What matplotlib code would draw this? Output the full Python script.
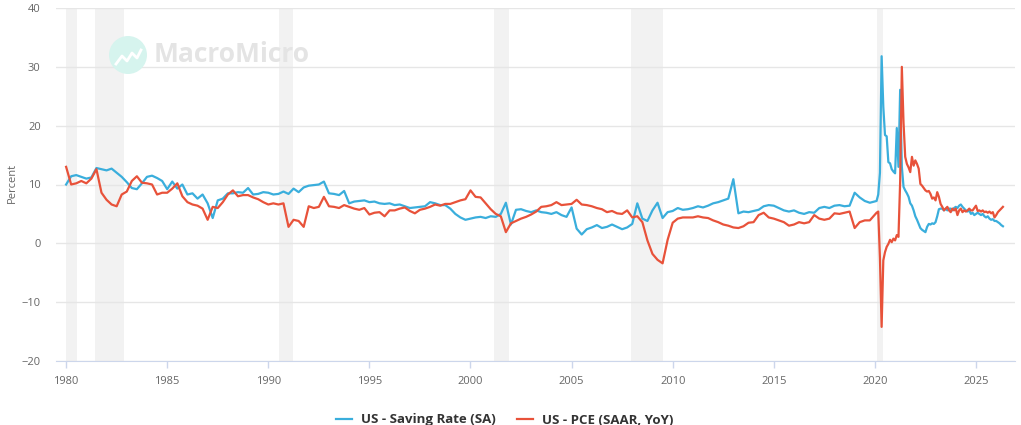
import numpy as np
import matplotlib
matplotlib.use("Agg")
import matplotlib.pyplot as plt
from matplotlib.patches import Ellipse
from matplotlib.lines import Line2D

plt.rcParams['font.family'] = ['Open Sans', 'DejaVu Sans']

# quarterly values 1980Q1 .. 2019Q4
saving_q = [
    10.0, 11.4, 11.6, 11.3,   11.0, 11.2, 12.8, 12.6,   12.4, 12.7, 12.0, 11.3,
    10.4, 9.4, 9.2, 10.2,     11.3, 11.5, 11.1, 10.6,   9.2, 10.5, 9.3, 10.0,
    8.3, 8.5, 7.6, 8.3,       6.8, 4.3, 7.3, 7.6,       8.5, 8.5, 8.7, 8.6,
    9.4, 8.3, 8.4, 8.7,       8.6, 8.3, 8.4, 8.8,       8.4, 9.3, 8.7, 9.5,
    9.8, 9.9, 10.0, 10.5,     8.5, 8.4, 8.2, 8.9,       6.8, 7.1, 7.2, 7.3,
    7.0, 7.1, 6.8, 6.7,       6.8, 6.5, 6.6, 6.3,       6.0, 6.1, 6.2, 6.3,
    7.0, 6.8, 6.5, 6.5,       5.9, 5.0, 4.4, 4.0,       4.2, 4.4, 4.5, 4.3,
    4.6, 4.5, 5.0, 6.9,       3.2, 5.7, 5.8, 5.5,       5.3, 5.6, 5.3, 5.2,
    5.0, 5.3, 4.8, 4.5,       6.1, 2.5, 1.5, 2.4,       2.7, 3.1, 2.6, 2.8,
    3.2, 2.8, 2.4, 2.7,       3.3, 6.8, 4.2, 3.8,       5.6, 6.9, 4.3, 5.3,
    5.5, 6.0, 5.7, 5.8,       6.0, 6.3, 6.1, 6.4,       6.8, 7.0, 7.3, 7.6,
    10.9, 5.1, 5.4, 5.3,      5.5, 5.7, 6.3, 6.5,       6.4, 6.0, 5.6, 5.4,
    5.6, 5.2, 5.0, 5.3,       5.2, 6.0, 6.2, 6.0,       6.4, 6.5, 6.3, 6.4,
    8.6, 7.8, 7.2, 6.9,
]
pce_q = [
    13.0, 10.0, 10.2, 10.6,   10.2, 11.0, 12.6, 8.6,    7.4, 6.6, 6.3, 8.3,
    8.8, 10.6, 11.4, 10.3,    10.2, 10.0, 8.3, 8.6,     8.6, 9.3, 10.2, 8.0,
    7.0, 6.6, 6.4, 5.9,       4.0, 6.2, 6.0, 7.0,       8.3, 9.0, 8.0, 8.2,
    8.2, 7.8, 7.5, 7.0,       6.6, 6.8, 6.6, 6.8,       2.8, 4.0, 3.8, 2.8,
    6.3, 6.0, 6.2, 7.9,       6.3, 6.2, 6.0, 6.5,       6.2, 5.9, 5.7, 6.0,
    4.9, 5.2, 5.3, 4.6,       5.6, 5.6, 5.9, 6.1,       5.5, 5.1, 5.7, 5.9,
    6.2, 6.6, 6.4, 6.7,       6.7, 7.0, 7.3, 7.5,       9.0, 7.9, 7.8, 6.8,
    5.8, 5.0, 4.6, 1.9,       3.4, 3.8, 4.2, 4.5,       4.9, 5.4, 6.2, 6.3,
    6.5, 7.0, 6.5, 6.6,       6.7, 7.4, 6.6, 6.5,       6.3, 6.0, 5.8, 5.3,
    5.5, 5.1, 5.0, 5.6,       4.4, 4.6, 3.6, 0.5,       -1.8, -2.8, -3.4, 0.6,
    3.5, 4.2, 4.4, 4.4,       4.4, 4.6, 4.4, 4.3,       3.9, 3.6, 3.2, 3.0,
    2.7, 2.6, 2.9, 3.5,       3.6, 4.8, 5.2, 4.4,       4.2, 3.9, 3.6, 3.0,
    3.2, 3.6, 3.4, 3.6,       4.8, 4.2, 4.0, 4.2,       5.1, 5.0, 5.2, 5.4,
    2.6, 3.6, 3.9, 3.9,
]

# monthly values Jan 2020 .. Apr 2026
saving_m = [
    7.2, 8.3, 12.0, 31.8, 23.2, 18.4, 18.2, 13.8, 13.6, 12.6, 12.2, 11.9,
    19.6, 13.0, 26.1, 13.0, 9.6, 9.0, 8.5, 7.9, 6.8, 6.4, 5.6, 4.6,
    4.0, 3.3, 2.6, 2.3, 2.1, 1.9, 2.8, 3.3, 3.2, 3.4, 3.3, 3.6,
    4.6, 5.8, 5.9, 5.9, 5.6, 5.9, 5.6, 5.9, 5.9, 5.6, 6.0, 6.2,
    6.0, 6.4, 6.6, 6.2, 5.9, 5.6, 5.4, 5.6, 5.0, 5.2, 4.8, 5.0,
    5.2, 5.0, 4.8, 5.0, 4.6, 4.4, 4.6, 4.2, 4.0, 4.1, 3.8, 3.8,
    3.6, 3.4, 3.1, 2.9,
]
pce_m = [
    5.2, 5.4, -2.5, -14.2, -2.9, -1.5, -0.6, -0.1, 0.6, 0.2, 0.8, 0.5,
    1.4, 1.1, 10.5, 30.0, 20.5, 14.7, 13.5, 12.9, 12.1, 14.7, 13.2, 14.1,
    13.5, 12.7, 10.1, 9.8, 9.4, 9.0, 8.8, 8.9, 8.4, 7.6, 7.8, 7.3,
    8.7, 7.9, 6.7, 6.2, 5.6, 5.9, 6.2, 5.6, 5.3, 5.9, 5.6, 5.9,
    4.8, 5.6, 5.9, 5.3, 5.6, 5.4, 5.6, 5.9, 5.6, 5.6, 6.0, 6.4,
    5.5, 5.6, 5.4, 5.6, 5.3, 5.4, 5.2, 5.4, 5.1, 5.3, 4.4, 4.8,
    5.3, 5.6, 5.9, 6.2,
]

# recessions (start, end) in decimal years
rec_start = [1980.0, 1981.45, 1990.55, 2001.17, 2007.94, 2020.11]
rec_end = [1980.55, 1982.88, 1991.23, 2001.91, 2009.53, 2020.40]

xtick_years = list(range(1980, 2026, 5))
ytick_vals = list(range(-20, 41, 10))

blue = '#3aaedc'
red = '#e8523a'

t_q = 1980 + np.arange(len(saving_q)) / 4
t_m = 2020 + (np.arange(len(saving_m)) + 1) / 12
t = np.concatenate([t_q, t_m])
saving = np.concatenate([saving_q, saving_m])
pce = np.concatenate([pce_q, pce_m])

W, H = 1021, 425
fig = plt.figure(figsize=(W / 100, H / 100), dpi=100)
ax = fig.add_axes([56 / W, 1 - 361 / H, (1015 - 56) / W, (361 - 8) / H])

for s, e in zip(rec_start, rec_end):
    ax.axvspan(s, e, color='#f2f2f2', lw=0, zorder=0)

ax.set_ylim(-20, 40)
ax.set_xlim(1979.5, 2026.93)
ax.set_yticks(ytick_vals)
ax.set_xticks(xtick_years)
ax.yaxis.grid(True, color='#e6e6e6', lw=1)
ax.set_axisbelow(True)
for sp in ['top', 'right', 'left']:
    ax.spines[sp].set_visible(False)
ax.spines['bottom'].set_color('#ccd6eb')
ax.tick_params(axis='y', length=0, pad=11, labelsize=8, labelcolor='#666666')
ax.tick_params(axis='x', length=5, width=1, color='#ccd6eb', pad=6,
               labelsize=8, labelcolor='#666666')

l1, = ax.plot(t, saving, color=blue, lw=1.6, zorder=3)
l2, = ax.plot(t, pce, color=red, lw=1.6, zorder=4)

fig.text(12 / W, 1 - 183 / H, 'Percent', rotation=90, ha='center', va='center',
         fontsize=8, color='#666666')

# watermark
fig.add_artist(Ellipse((128 / W, 1 - 55 / H), 38 / W, 38 / H,
                       transform=fig.transFigure, color='#d6f4ee', lw=0, zorder=1))
zx = np.array([116, 122, 127, 132, 137, 141]) / W
zy = 1 - np.array([64, 56, 61, 53, 58, 50]) / H
fig.add_artist(Line2D(zx, zy, color='white', lw=2, transform=fig.transFigure, zorder=2))
fig.text(154 / W, 1 - 55 / H, 'MacroMicro', ha='left', va='center', fontsize=19,
         fontweight='bold', color='#e4e4e4', zorder=1)

fig.legend([l1, l2], ['US - Saving Rate (SA)', 'US - PCE (SAAR, YoY)'],
           loc='center', bbox_to_anchor=(505 / W, 1 - 420 / H), ncol=2, frameon=False,
           prop={'weight': 'bold', 'size': 9.5}, handlelength=1.2, handletextpad=0.7,
           columnspacing=1.6, labelcolor='#333333')

fig.savefig('out.png', dpi=100)
